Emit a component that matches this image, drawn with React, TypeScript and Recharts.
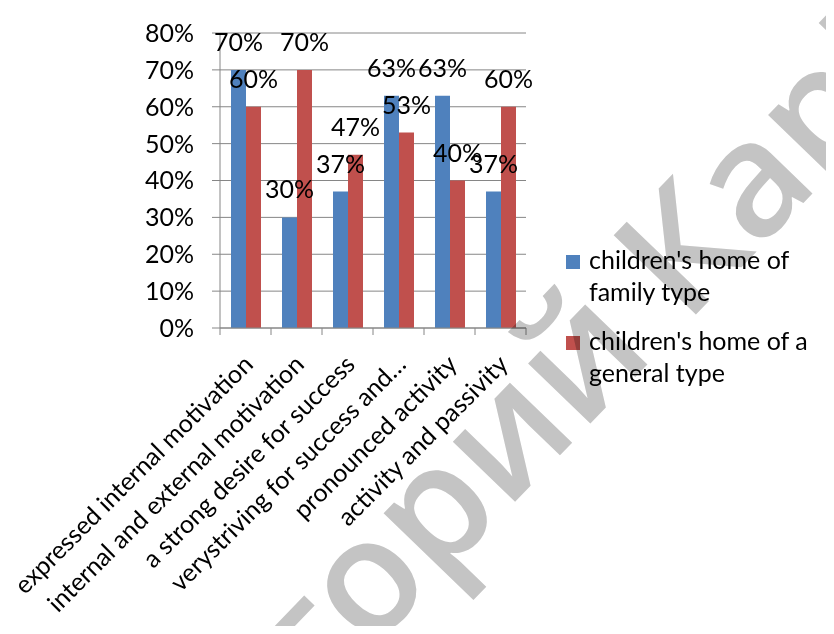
import { Bar, BarChart, CartesianGrid, LabelList, XAxis, YAxis } from 'recharts';

const categories = [
    'expressed internal motivation',
    'internal and external motivation',
    'a strong desire for success',
    'verystriving for success and…',
    'pronounced activity',
    'activity and passivity',
];
const familyType = [70, 30, 37, 63, 63, 37];
const generalType = [60, 70, 47, 53, 40, 60];
const yTicks = [0, 10, 20, 30, 40, 50, 60, 70, 80];
const seriesNames = ["children's home of family type", "children's home of a general type"];
const colors = ['#4F81BD', '#C0504D'];

const data = categories.map((name, i) => ({
    name,
    family: familyType[i],
    general: generalType[i],
}));

const FONT = 'Lato, "Open Sans", sans-serif';
const FS = 25;
const GRID = '#868686';
const WIDTH = 834;
const HEIGHT = 634;
const margin = { top: 33, right: 308, bottom: 0, left: 0 };
const yAxisWidth = 220;
const band = (WIDTH - margin.left - margin.right - yAxisWidth) / categories.length;

function CategoryTick({ x, y, payload, index }: any) {
    const last = index === categories.length - 1;
    return (
        <g>
            <line x1={x - band / 2} x2={x - band / 2} y1={y} y2={y + 7} stroke={GRID} />
            {last && <line x1={x + band / 2} x2={x + band / 2} y1={y} y2={y + 7} stroke={GRID} />}
            <text
                transform={`translate(${x + 9},${y + 38}) rotate(-45)`}
                textAnchor="end"
                fontSize={FS}
                fontFamily={FONT}
                fill="#000"
            >
                {payload.value}
            </text>
        </g>
    );
}

function LegendBox() {
    return (
        <div
            style={{
                position: 'absolute',
                left: 566,
                top: 243,
                width: 268,
                fontFamily: FONT,
                fontSize: FS,
                lineHeight: '32px',
                color: '#000',
            }}
        >
            {seriesNames.map((name, i) => (
                <div key={name} style={{ display: 'flex', marginBottom: 17 }}>
                    <span
                        style={{
                            width: 14,
                            height: 14,
                            background: colors[i],
                            marginTop: 12,
                            marginRight: 9,
                            flex: 'none',
                        }}
                    />
                    <span style={{ width: 236 }}>{name}</span>
                </div>
            ))}
        </div>
    );
}

export default function App() {
    return (
        <div style={{ position: 'relative', margin: -8, width: WIDTH, height: HEIGHT, background: '#fff', overflow: 'hidden' }}>
            <div
                style={{
                    position: 'absolute',
                    left: 3,
                    top: 2,
                    width: WIDTH,
                    height: 630,
                    borderTop: '2px solid #8c8c8c',
                    borderLeft: '2px solid #9a9a9a',
                    borderBottom: '1px solid #d0d0d0',
                    boxSizing: 'border-box',
                }}
            />
            <BarChart width={WIDTH} height={HEIGHT} data={data} margin={margin} barGap={0} barSize={15}>
                <CartesianGrid vertical={false} stroke={GRID} />
                <YAxis
                    width={yAxisWidth}
                    domain={[0, 80]}
                    ticks={yTicks}
                    interval={0}
                    tickFormatter={(v) => `${v}%`}
                    axisLine={{ stroke: GRID }}
                    tickLine={{ stroke: GRID }}
                    tickSize={8}
                    tickMargin={18}
                    tick={{ fill: '#000', fontSize: FS, fontFamily: FONT }}
                />
                <XAxis
                    dataKey="name"
                    height={HEIGHT - margin.top - 295}
                    interval={0}
                    tickLine={false}
                    tickSize={0}
                    tickMargin={0}
                    axisLine={{ stroke: GRID }}
                    tick={<CategoryTick />}
                />
                <Bar dataKey="family" name={seriesNames[0]} fill={colors[0]} isAnimationActive={false}>
                    <LabelList
                        dataKey="family"
                        position="top"
                        offset={19}
                        formatter={(v: any) => `${v}%`}
                        style={{ fill: '#000', fontSize: FS, fontFamily: FONT }}
                    />
                </Bar>
                <Bar dataKey="general" name={seriesNames[1]} fill={colors[1]} isAnimationActive={false}>
                    <LabelList
                        dataKey="general"
                        position="top"
                        offset={19}
                        formatter={(v: any) => `${v}%`}
                        style={{ fill: '#000', fontSize: FS, fontFamily: FONT }}
                    />
                </Bar>
            </BarChart>
            <LegendBox />
            <svg
                width={WIDTH}
                height={HEIGHT}
                style={{ position: 'absolute', left: 0, top: 0, pointerEvents: 'none', mixBlendMode: 'multiply' }}
            >
                <g
                    transform="translate(312,712) rotate(-46)"
                    fill="#c4c4c4"
                    fontFamily='"Open Sans", sans-serif'
                    fontWeight={600}
                    fontSize={160}
                >
                    <text textAnchor="end">Репози</text>
                    <text textAnchor="start">торий КарГУ</text>
                </g>
            </svg>
        </div>
    );
}
